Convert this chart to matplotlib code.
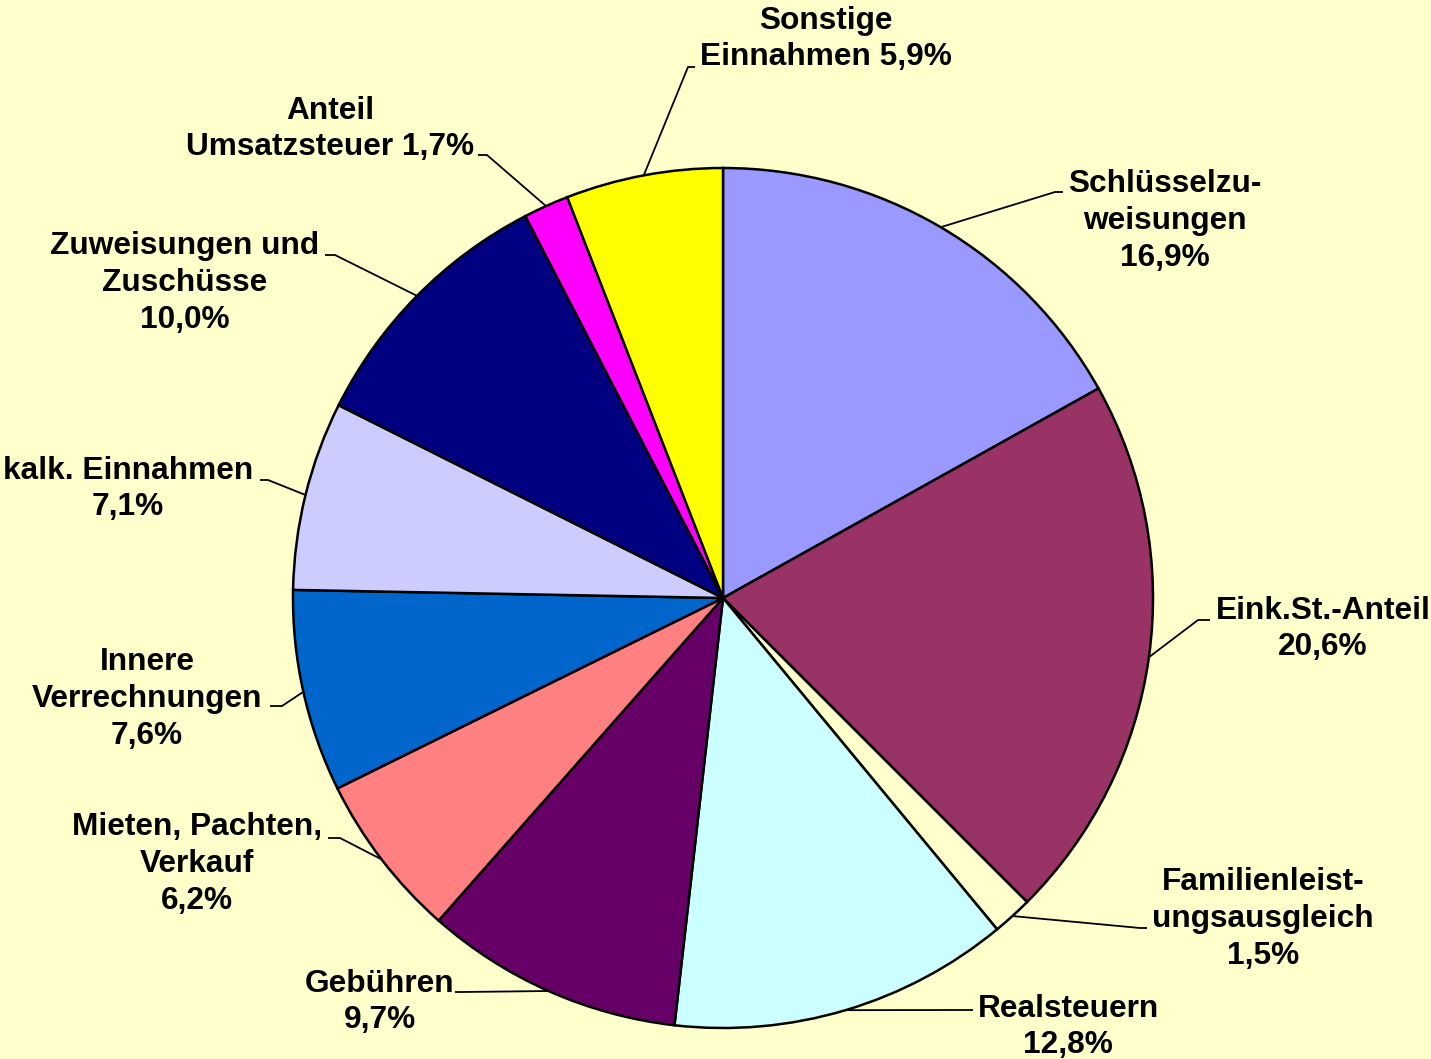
import numpy as np
import matplotlib
matplotlib.use("Agg")
import matplotlib.pyplot as plt

# Einnahmen - Anteile in Prozent, im Uhrzeigersinn ab 12 Uhr
labels = ["Schlüsselzu-\nweisungen", "Eink.St.-Anteil", "Familienleist-\nungsausgleich",
          "Realsteuern", "Gebühren", "Mieten, Pachten,\nVerkauf", "Innere\nVerrechnungen",
          "kalk. Einnahmen", "Zuweisungen und\nZuschüsse", "Anteil\nUmsatzsteuer",
          "Sonstige\nEinnahmen"]
values = [16.9, 20.6, 1.5, 12.8, 9.7, 6.2, 7.6, 7.1, 10.0, 1.7, 5.9]
colors = ["#9999FF", "#993366", "#FFFFCC", "#CCFFFF", "#660066", "#FF8080",
          "#0066CC", "#CCCCFF", "#000080", "#FF00FF", "#FFFF00"]
# percentage on same line as last text line?
same_line = [False, False, False, False, False, False, False, False, False, True, True]

W, H = 1431, 1059
bg = "#FFFFCC"

# label layout in pixels (top-left origin): text centre, leader elbow, leader end
text_pos = [(1165, 221), (1323, 629), (1263, 919), (1068, 1027), (380, 1002),
            (197, 864), (147, 699), (128, 489), (185, 283), (330, 129), (826, 39)]
elbow = [(1055, 192), (1198, 620), (1140, 928), (973, 1010), (462, 992),
         (340, 838), (282, 706), (268, 480), (335, 255), (487, 155), (688, 67)]
leader_end = [(1063, 192), (1210, 620), (1147, 928), (973, 1010), (455, 992),
              (328, 838), (270, 706), (260, 480), (325, 255), (478, 155), (695, 67)]

fig = plt.figure(figsize=(W / 100, H / 100), dpi=100, facecolor=bg)
ax = fig.add_axes([0, 0, 1, 1])
ax.set_facecolor(bg)

cx, cy, r = 723, H - 598, 430
wedges, _ = ax.pie(values, colors=colors, startangle=90, counterclock=False,
                   center=(cx, cy), radius=r,
                   wedgeprops=dict(edgecolor="black", linewidth=1.8))

for i, w in enumerate(wedges):
    mid = np.deg2rad((w.theta1 + w.theta2) / 2)
    px = cx + r * np.cos(mid)
    py = cy + r * np.sin(mid)
    ex, ey = elbow[i]
    lx, ly = leader_end[i]
    ax.plot([px, ex, lx], [py, H - ey, H - ly], color="black", lw=1.3,
            solid_capstyle="butt")
    pct = f"{values[i]:.1f}%".replace(".", ",")
    if same_line[i]:
        txt = labels[i] + " " + pct
    else:
        txt = labels[i] + "\n" + pct
    tx, ty = text_pos[i]
    ax.text(tx, H - ty, txt, ha="center", va="center", multialignment="center",
            fontsize=22.8, fontweight="bold", family=["Liberation Sans", "DejaVu Sans"],
            linespacing=1.3)

ax.set_xlim(0, W)
ax.set_ylim(0, H)
ax.set_aspect("equal")
ax.axis("off")

fig.savefig("out.png", dpi=100, facecolor=bg)
